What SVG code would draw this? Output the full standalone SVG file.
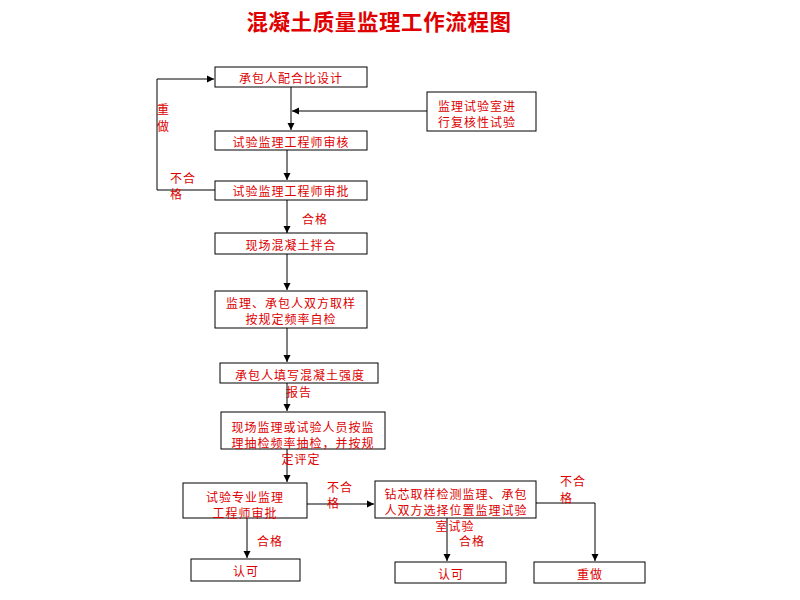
<svg xmlns="http://www.w3.org/2000/svg" width="800" height="600" viewBox="0 0 800 600">
<defs>
<marker id="ah" markerWidth="8" markerHeight="8" refX="7" refY="4" orient="auto" markerUnits="userSpaceOnUse">
<path d="M0,0.5 L7,4 L0,7.5 Z" fill="#000"/>
</marker>
<style>
.box{fill:#fff;stroke:#000;stroke-width:1}
text{font-family:"Noto Sans CJK SC","Noto Sans",sans-serif;fill:#dd0000;font-size:12px;letter-spacing:1px;dominant-baseline:central}
.c{text-anchor:middle}
.title{font-size:21.5px;font-weight:bold;fill:#e00000;letter-spacing:0.6px}
.conn{fill:none;stroke:#000;stroke-width:1;marker-end:url(#ah)}
</style>
</defs>
<rect width="800" height="600" fill="#fff"/>
<text class="title c" x="379" y="20">混凝土质量监理工作流程图</text>

<g id="connectors">
<polyline class="conn" points="215,190 157,190 157,79 214,79"/>
<line class="conn" x1="291" y1="87" x2="291" y2="130"/>
<line class="conn" x1="427" y1="111" x2="292" y2="111"/>
<line class="conn" x1="287" y1="150" x2="287" y2="180"/>
<line class="conn" x1="287" y1="200" x2="287" y2="233"/>
<line class="conn" x1="287" y1="254" x2="287" y2="290"/>
<line class="conn" x1="287" y1="328" x2="287" y2="362"/>
<line class="conn" x1="287" y1="383" x2="287" y2="411"/>
<line class="conn" x1="287" y1="449" x2="287" y2="482"/>
<line class="conn" x1="307" y1="504" x2="374" y2="504"/>
<line class="conn" x1="247" y1="518" x2="247" y2="558"/>
<line class="conn" x1="447" y1="518" x2="447" y2="561"/>
<polyline class="conn" points="536,503 595,503 595,561"/>
</g>

<g id="labels">
<text x="157" y="108">重</text>
<text x="157" y="125">做</text>
<text x="170" y="177">不合</text>
<text x="170" y="193">格</text>
<text x="302" y="218">合格</text>
<text x="327" y="486">不合</text>
<text x="327" y="502">格</text>
<text x="257" y="540">合格</text>
<text x="459" y="540">合格</text>
<text x="560" y="480">不合</text>
<text x="560" y="497">格</text>
</g>

<g id="n1"><rect class="box" x="215" y="67" width="152" height="20"/><text class="c" x="291" y="77">承包人配合比设计</text></g>
<g id="n_lab"><rect class="box" x="427" y="92" width="109" height="39"/><text class="c" x="477" y="105">监理试验室进</text><text class="c" x="477" y="121">行复核性试验</text></g>
<g id="n2"><rect class="box" x="215" y="131" width="152" height="19"/><text class="c" x="291" y="141">试验监理工程师审核</text></g>
<g id="n3"><rect class="box" x="215" y="181" width="152" height="19"/><text class="c" x="291" y="190">试验监理工程师审批</text></g>
<g id="n4"><rect class="box" x="215" y="233" width="152" height="21"/><text class="c" x="291" y="244">现场混凝土拌合</text></g>
<g id="n5"><rect class="box" x="215" y="291" width="152" height="37"/><text class="c" x="291" y="302">监理、承包人双方取样</text><text class="c" x="291" y="318">按规定频率自检</text></g>
<g id="n6"><rect class="box" x="220" y="363" width="158" height="20"/><text class="c" x="300" y="374">承包人填写混凝土强度</text><text class="c" x="299" y="391">报告</text></g>
<g id="n7"><rect class="box" x="221" y="412" width="164" height="37"/><text class="c" x="303" y="426">现场监理或试验人员按监</text><text class="c" x="303" y="442">理抽检频率抽检，并按规</text><text class="c" x="301" y="458">定评定</text></g>
<g id="n8"><rect class="box" x="183" y="483" width="124" height="35"/><text class="c" x="245" y="496">试验专业监理</text><text class="c" x="245" y="512">工程师审批</text></g>
<g id="n9"><rect class="box" x="375" y="481" width="161" height="37"/><text class="c" x="456" y="493">钻芯取样检测监理、承包</text><text class="c" x="456" y="509">人双方选择位置监理试验</text><text class="c" x="455" y="525">室试验</text></g>
<g id="n10"><rect class="box" x="191" y="559" width="109" height="22"/><text class="c" x="246" y="570">认可</text></g>
<g id="n11"><rect class="box" x="395" y="562" width="111" height="21"/><text class="c" x="451" y="573">认可</text></g>
<g id="n12"><rect class="box" x="534" y="562" width="111" height="21"/><text class="c" x="590" y="573">重做</text></g>
</svg>
